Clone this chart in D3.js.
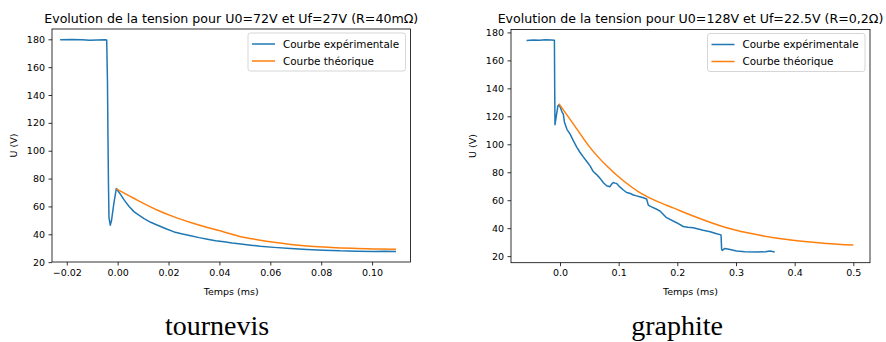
<!DOCTYPE html>
<html>
<head>
<meta charset="utf-8">
<script src="https://cdn.jsdelivr.net/npm/d3@7"></script>
<style>
  body { margin: 0; background: #fff; }
  svg { display: block; font-family: "DejaVu Sans", sans-serif; }
</style>
</head>
<body>
<div id="d3-container"></div>
<script>
/* DATA */
const yTickValues = [20, 40, 60, 80, 100, 120, 140, 160, 180];
const tournevisXTicks = [-0.02, 0.00, 0.02, 0.04, 0.06, 0.08, 0.10];
const graphiteXTicks = [0.0, 0.1, 0.2, 0.3, 0.4, 0.5];
const seriesNames = ["Courbe expérimentale", "Courbe théorique"];

// tournevis : courbe expérimentale (t en ms, U en V)
const tournevisExpT = [-0.0226, -0.018, -0.014, -0.011, -0.008, -0.005, -0.0043, -0.004, -0.0038, -0.0036, -0.0034, -0.0029, -0.0024, -0.0015, -0.0005, 0.0008, 0.0026, 0.0045, 0.0065, 0.0085, 0.0104, 0.013, 0.0157, 0.019, 0.0222, 0.0255, 0.0287, 0.032, 0.0353, 0.0385, 0.0418, 0.045, 0.0484, 0.0523, 0.056, 0.0614, 0.068, 0.0744, 0.081, 0.0875, 0.094, 0.1006, 0.105, 0.1094];
const tournevisExpU = [179.6, 179.8, 179.6, 179.3, 179.5, 179.7, 179.5, 150, 110, 75, 52, 46.5, 50, 62, 72.9, 69.5, 64.5, 60, 56.1, 53.5, 51.3, 48.6, 46.5, 44, 41.7, 40.2, 38.9, 37.6, 36.5, 35.4, 34.6, 33.8, 33.1, 32.2, 31.4, 30.6, 29.8, 29.1, 28.6, 28.1, 27.9, 27.7, 27.8, 27.7];
// tournevis : courbe théorique
const tournevisTheoT = [-0.0005, 0.0065, 0.0157, 0.0222, 0.0287, 0.0353, 0.0418, 0.0484, 0.0549, 0.0614, 0.068, 0.0744, 0.081, 0.0875, 0.094, 0.1006, 0.1094];
const tournevisTheoU = [72.6, 65.7, 57.3, 52.5, 48.5, 44.9, 41.7, 38.3, 36.1, 34.2, 32.7, 31.6, 30.8, 30.2, 29.8, 29.5, 29.2];

// graphite : courbe expérimentale
const graphiteExpT = [-0.057, -0.045, -0.035, -0.025, -0.015, -0.0095, -0.009, -0.0085, -0.006, -0.0035, -0.0017, 0.001, 0.0035, 0.0057, 0.0075, 0.0085, 0.012, 0.017, 0.0227, 0.029, 0.034, 0.0397, 0.046, 0.051, 0.0567, 0.062, 0.068, 0.074, 0.0795, 0.085, 0.088, 0.091, 0.094, 0.0966, 0.102, 0.108, 0.1136, 0.12, 0.125, 0.1307, 0.136, 0.142, 0.1477, 0.1505, 0.155, 0.165, 0.1704, 0.1817, 0.1988, 0.21, 0.218, 0.227, 0.244, 0.256, 0.267, 0.2745, 0.2755, 0.2766, 0.281, 0.29, 0.301, 0.315, 0.335, 0.35, 0.358, 0.362, 0.366];
const graphiteExpU = [174.3, 174.6, 174.4, 174.7, 174.6, 174.4, 140, 114, 121, 127.5, 128.3, 126, 123, 121.5, 116, 114.6, 110.5, 107.4, 102.6, 97.6, 94.3, 91, 87.5, 84.7, 80.5, 78.5, 75.8, 72.5, 70.3, 69.6, 71.5, 72.7, 72.2, 71.9, 69.5, 67.3, 65.5, 64.8, 63.7, 63.1, 62.5, 61.8, 60.9, 56.5, 55.4, 53.5, 52.3, 47.5, 43.9, 41.2, 40.6, 40.3, 38.5, 37.5, 36, 35.2, 25, 24.1, 25.5, 24.8, 23.6, 23.1, 22.9, 23.1, 23.6, 23.3, 22.9];
// graphite : courbe théorique
const graphiteTheoT = [-0.0017, 0.0227, 0.051, 0.0795, 0.108, 0.136, 0.165, 0.193, 0.227, 0.284, 0.341, 0.397, 0.454, 0.5];
const graphiteTheoU = [129, 114.6, 97.8, 84.6, 73.9, 65.5, 59.3, 54.5, 48.7, 40.3, 34.9, 31.3, 29.1, 27.9];

const zip = (ts, us) => ts.map((t, i) => ({ t: t, u: us[i] }));

/* CONSTANTS */
const width = 886, height = 342;
const blue = "#1f77b4", orange = "#ff7f0e";

const svg = d3.select("#d3-container")
  .append("svg")
  .attr("width", width)
  .attr("height", height);

svg.append("rect").attr("width", width).attr("height", height).attr("fill", "#fff");

const charts = [
  {
    title: "Evolution de la tension pour U0=72V et Uf=27V (R=40mΩ)",
    caption: "tournevis", captionX: 217,
    box: { left: 52, right: 410.5, top: 29, bottom: 262 },
    xDomain: [-0.0258, 0.1151], yDomain: [20.1, 187.4],
    xTicks: tournevisXTicks, xFormat: d3.format(".2f"),
    exp: zip(tournevisExpT, tournevisExpU),
    theo: zip(tournevisTheoT, tournevisTheoU),
    yLabelX: 13
  },
  {
    title: "Evolution de la tension pour U0=128V et Uf=22.5V (R=0,2Ω)",
    caption: "graphite", captionX: 677,
    box: { left: 511, right: 870, top: 29.5, bottom: 262.7 },
    xDomain: [-0.0835, 0.5284], yDomain: [15.3, 182.1],
    xTicks: graphiteXTicks, xFormat: d3.format(".1f"),
    exp: zip(graphiteExpT, graphiteExpU),
    theo: zip(graphiteTheoT, graphiteTheoU),
    yLabelX: 472
  }
];

charts.forEach(drawChart);

function drawChart(c) {
  const b = c.box;
  const xScale = d3.scaleLinear().domain(c.xDomain).range([b.left, b.right]);
  const yScale = d3.scaleLinear().domain(c.yDomain).range([b.bottom, b.top]);

  const g = svg.append("g");

  // clip
  const clipId = "clip-" + c.caption;
  g.append("clipPath").attr("id", clipId)
    .append("rect")
    .attr("x", b.left).attr("y", b.top)
    .attr("width", b.right - b.left).attr("height", b.bottom - b.top);

  // axes
  const xAxis = d3.axisBottom(xScale)
    .tickValues(c.xTicks)
    .tickFormat(c.xFormat)
    .tickSize(3.5)
    .tickPadding(3.5)
    .tickSizeOuter(0);
  const yAxis = d3.axisLeft(yScale)
    .tickValues(yTickValues)
    .tickFormat(d3.format("d"))
    .tickSize(3.5)
    .tickPadding(3.5)
    .tickSizeOuter(0);

  const xg = g.append("g")
    .attr("transform", `translate(0, ${b.bottom})`)
    .call(xAxis);
  const yg = g.append("g")
    .attr("transform", `translate(${b.left}, 0)`)
    .call(yAxis);
  [xg, yg].forEach(ax => {
    ax.select(".domain").remove();
    ax.selectAll("line").attr("stroke", "#000").attr("stroke-width", 0.8);
    ax.selectAll("text")
      .attr("fill", "#000")
      .attr("font-family", "DejaVu Sans")
      .attr("font-size", 9.5);
  });

  // lines
  const lineGen = d3.line()
    .x(d => xScale(d.t))
    .y(d => yScale(d.u));
  const smoothGen = d3.line()
    .x(d => xScale(d.t))
    .y(d => yScale(d.u))
    .curve(d3.curveMonotoneX);

  const plot = g.append("g").attr("clip-path", `url(#${clipId})`);
  plot.append("path")
    .datum(c.exp)
    .attr("fill", "none")
    .attr("stroke", blue)
    .attr("stroke-width", 1.5)
    .attr("stroke-linejoin", "round")
    .attr("d", lineGen);
  plot.append("path")
    .datum(c.theo)
    .attr("fill", "none")
    .attr("stroke", orange)
    .attr("stroke-width", 1.5)
    .attr("d", smoothGen);

  // frame
  g.append("rect")
    .attr("x", b.left).attr("y", b.top)
    .attr("width", b.right - b.left).attr("height", b.bottom - b.top)
    .attr("fill", "none")
    .attr("stroke", "#000")
    .attr("stroke-width", 0.8);

  // legend
  const lx = b.right - 5 - 157.5, ly = b.top + 4;
  const legend = g.append("g").attr("transform", `translate(${lx}, ${ly})`);
  legend.append("rect")
    .attr("width", 157.5).attr("height", 38)
    .attr("rx", 2.5)
    .attr("fill", "#fff").attr("fill-opacity", 0.8)
    .attr("stroke", "#ccc").attr("stroke-width", 0.8);
  legend.selectAll(".leg")
    .data(seriesNames)
    .join("g")
    .attr("class", "leg")
    .attr("transform", (d, i) => `translate(0, ${11 + i * 17})`)
    .each(function (d, i) {
      const row = d3.select(this);
      row.append("line")
        .attr("x1", 4).attr("x2", 27)
        .attr("stroke", i === 0 ? blue : orange)
        .attr("stroke-width", 1.5);
      row.append("text")
        .attr("x", 35).attr("y", 3.8)
        .attr("font-size", 10.4)
        .attr("fill", "#000")
        .text(d);
    });

  // title
  g.append("text")
    .attr("x", (b.left + b.right) / 2)
    .attr("y", 23)
    .attr("text-anchor", "middle")
    .attr("font-size", 12.6)
    .attr("fill", "#000")
    .text(c.title);

  // axis labels
  g.append("text")
    .attr("x", (b.left + b.right) / 2)
    .attr("y", 295)
    .attr("text-anchor", "middle")
    .attr("font-size", 9.5)
    .attr("fill", "#000")
    .text("Temps (ms)");
  g.append("text")
    .attr("transform", `translate(${c.yLabelX + 3.5}, ${(b.top + b.bottom) / 2}) rotate(-90)`)
    .attr("text-anchor", "middle")
    .attr("font-size", 9.5)
    .attr("fill", "#000")
    .text("U (V)");

  // caption
  svg.append("text")
    .attr("x", c.captionX)
    .attr("y", 335)
    .attr("text-anchor", "middle")
    .attr("font-family", "Liberation Serif, serif")
    .attr("font-size", 28)
    .attr("fill", "#000")
    .text(c.caption);
}
</script>
</body>
</html>
